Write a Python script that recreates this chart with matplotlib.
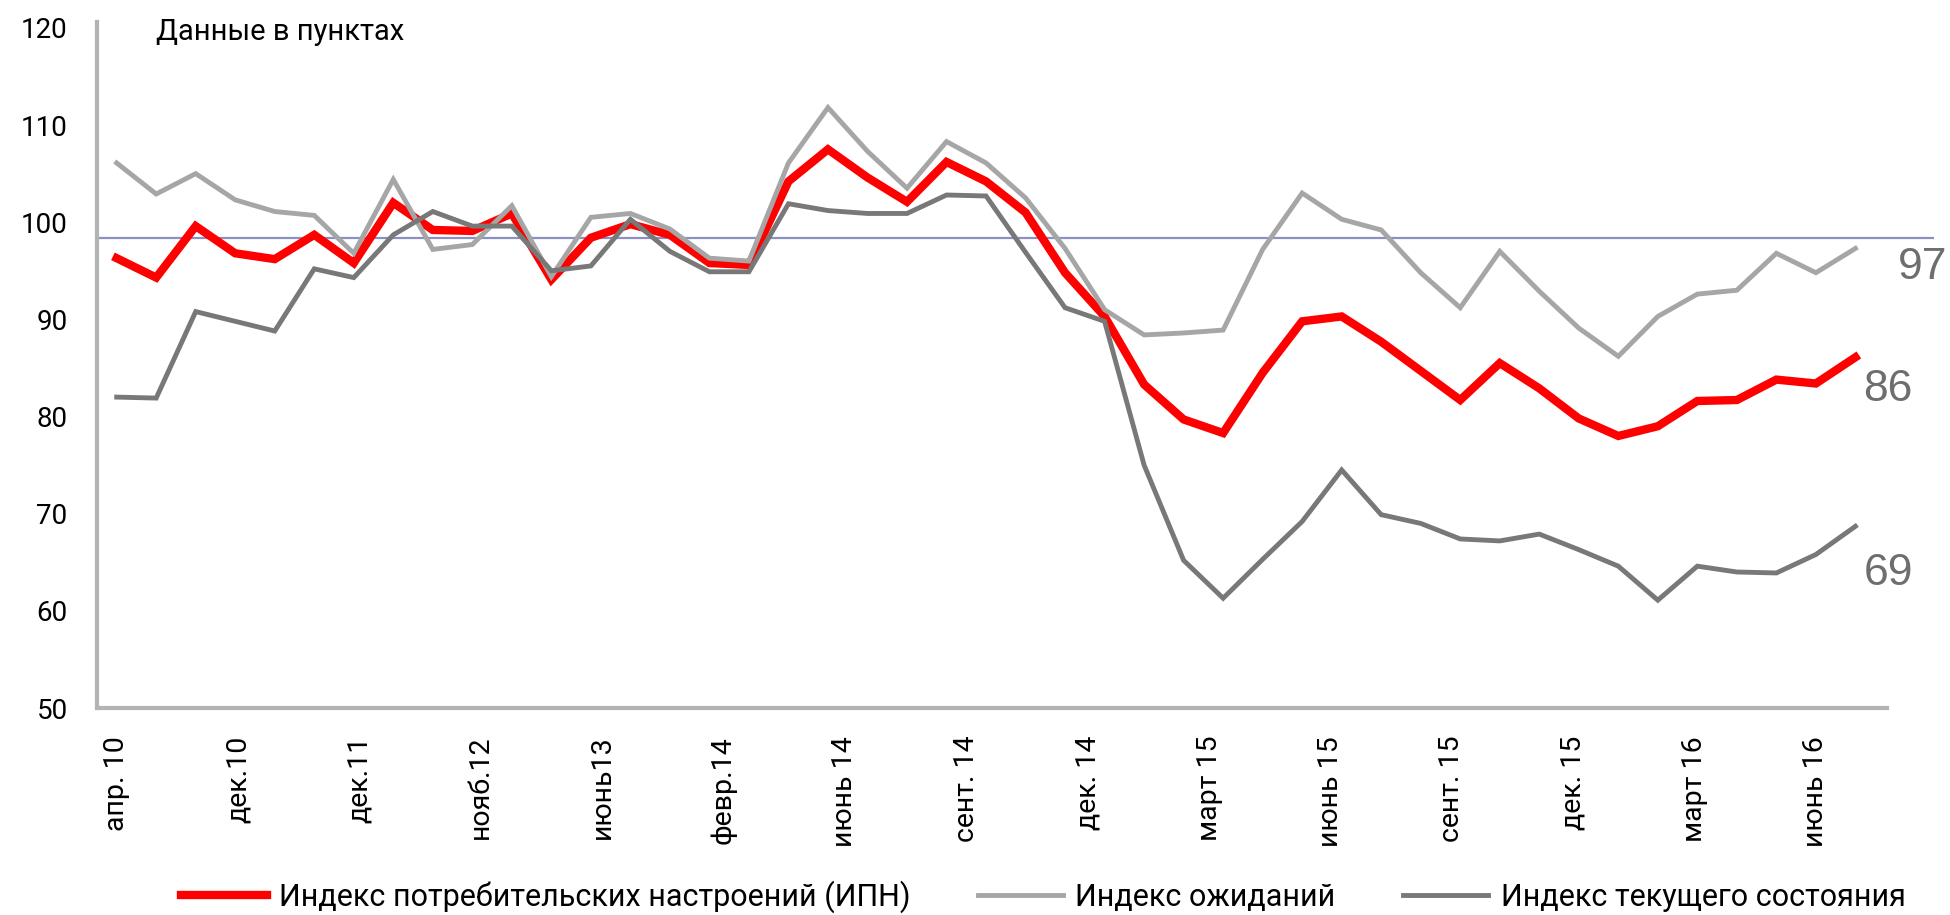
import matplotlib
import numpy as np

matplotlib.use("Agg")
import matplotlib.pyplot as plt

plt.rcParams["font.family"] = ["Roboto", "DejaVu Sans"]

tick_labels = [
    "апр. 10", "дек.10", "дек.11", "нояб.12", "июнь13", "февр.14", "июнь 14",
    "сент. 14", "дек. 14", "март 15", "июнь 15", "сент. 15", "дек. 15",
    "март 16", "июнь 16",
]

series_names = [
    "Индекс потребительских настроений (ИПН)",
    "Индекс ожиданий",
    "Индекс текущего состояния",
]

consumer_index = [
    96.3, 94.3, 99.6, 96.8, 96.2, 98.7, 95.8, 102.0, 99.2, 99.1,
    100.9, 94.1, 98.4, 99.8, 98.7, 95.8, 95.6, 104.2, 107.5, 104.6,
    102.1, 106.2, 104.2, 101.0, 94.8, 90.3, 83.3, 79.7, 78.3, 84.5,
    89.8, 90.3, 87.7, 84.7, 81.7, 85.5, 82.9, 79.8, 78.0, 79.0,
    81.6, 81.7, 83.8, 83.4, 86.1,
]
expectations_index = [
    106.1, 102.9, 105.0, 102.3, 101.1, 100.7, 96.8, 104.4, 97.2, 97.7,
    101.7, 94.4, 100.5, 100.9, 99.3, 96.3, 96.0, 106.1, 111.8, 107.3,
    103.5, 108.3, 106.1, 102.5, 97.3, 91.0, 88.4, 88.6, 88.9, 97.2,
    103.0, 100.3, 99.2, 94.8, 91.2, 97.0, 92.9, 89.1, 86.2, 90.3,
    92.6, 93.0, 96.8, 94.8, 97.3,
]
current_index = [
    82.0, 81.9, 90.8, 89.8, 88.8, 95.2, 94.3, 98.7, 101.1, 99.6,
    99.6, 95.0, 95.5, 100.3, 97.0, 94.9, 94.9, 101.9, 101.2, 100.9,
    100.9, 102.8, 102.7, 96.9, 91.2, 89.8, 75.0, 65.2, 61.3, 65.3,
    69.2, 74.5, 69.9, 69.0, 67.4, 67.2, 67.9, 66.3, 64.6, 61.1,
    64.6, 64.0, 63.9, 65.8, 68.7,
]
reference_level = 98.4

colors = ["#ff0000", "#a6a6a6", "#787878"]
widths = [6, 3.5, 3.5]
label_offsets = [(8, -32), (42, -19), (8, -47)]  # pixels from last point

fig = plt.figure(figsize=(19.5, 9.15), dpi=100)
ax = fig.add_axes([0.0497, 0.2262, 0.918, 0.7497])

x = np.arange(len(consumer_index))
all_series = [consumer_index, expectations_index, current_index]
for values, name, color, width in zip(all_series, series_names, colors, widths):
    ax.plot(x, values, color=color, lw=width, label=name, solid_joinstyle="miter")

ax.set_xlim(-0.5, 44.8)
ax.set_ylim(50, 120.6)
ax.hlines(reference_level, -0.5, 46.0, color="#8b90c4", lw=1.6, clip_on=False, zorder=1)

# labels with the latest value of each series
for idx, values in enumerate(all_series):
    last = values[-1]
    ax.annotate(
        f"{last:.0f}", (x[-1], last), xytext=label_offsets[idx],
        textcoords="offset pixels", ha="left", va="center",
        fontsize=32, color="#6e6e6e", annotation_clip=False,
        family=["Liberation Sans", "DejaVu Sans"],
    )

for side in ["top", "right"]:
    ax.spines[side].set_visible(False)
for side in ["left", "bottom"]:
    ax.spines[side].set_color("#b3b3b3")
    ax.spines[side].set_linewidth(3)

ax.set_yticks(np.arange(50, 121, 10))
ax.tick_params(axis="y", length=0, pad=21, labelsize=20)
ax.set_xticks(np.linspace(0, len(x) - 2, len(tick_labels)))
ax.set_xticklabels(tick_labels, rotation=90)
ax.tick_params(axis="x", length=0, pad=20, labelsize=20.5)

ax.text(0.033, 0.985, "Данные в пунктах", transform=ax.transAxes,
        fontsize=21, ha="left", va="center")

fig.legend(
    loc="lower center", bbox_to_anchor=(0.535, -0.028), ncol=3, frameon=False,
    fontsize=22, handlelength=2.8, handletextpad=0.4, columnspacing=2.2,
)

fig.savefig("out.png", dpi=100)
